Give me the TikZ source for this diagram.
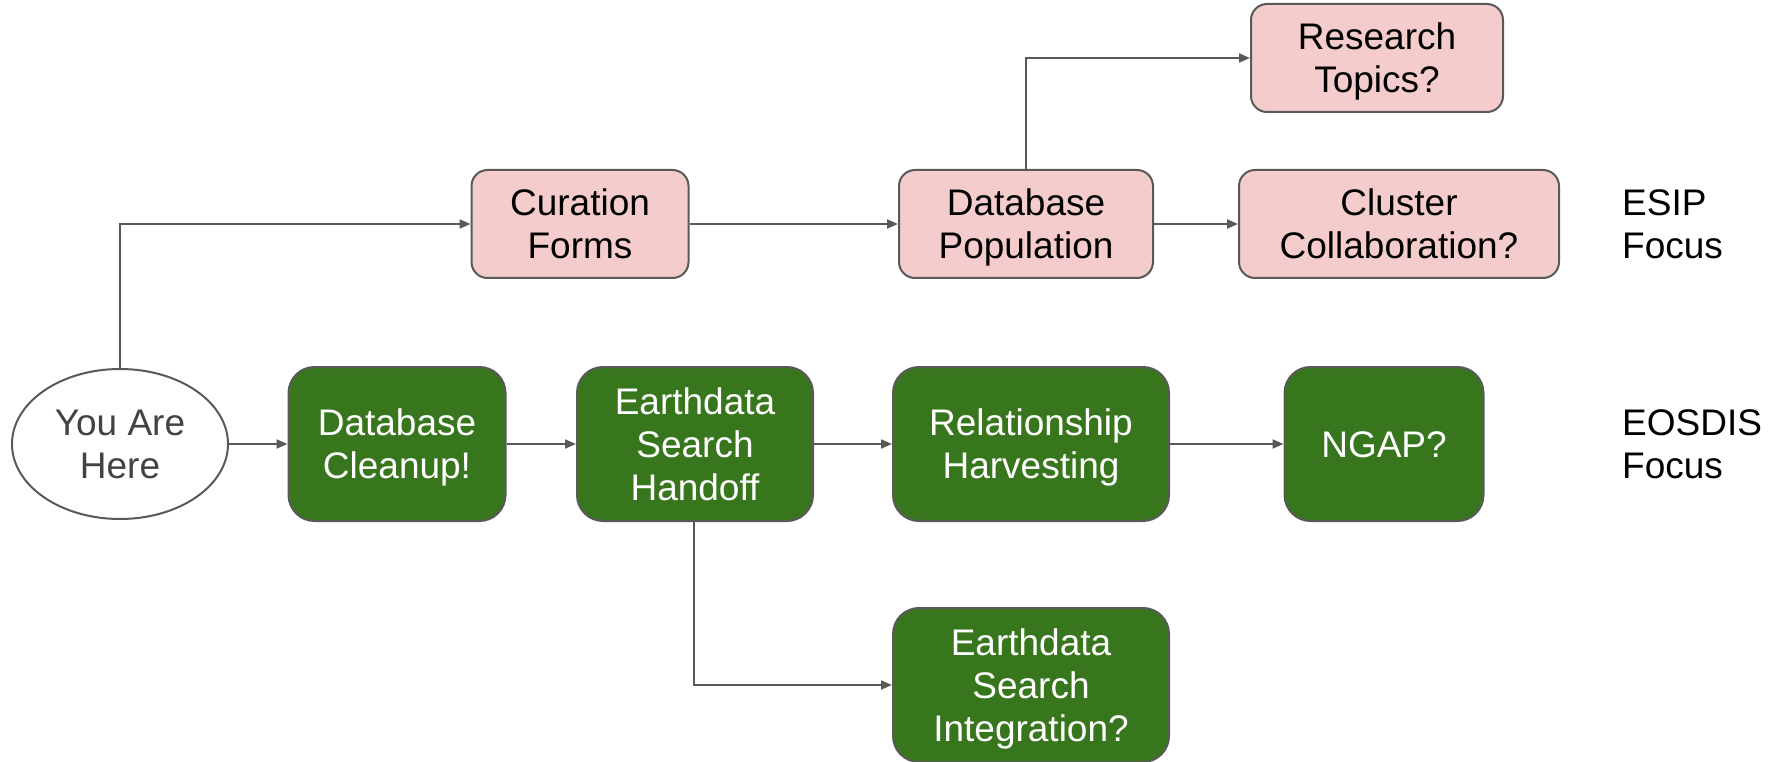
\documentclass[tikz,border=0pt]{standalone}
\usepackage{fontspec}
\setmainfont{Liberation Sans}
\usetikzlibrary{shapes.geometric,arrows.meta}
\definecolor{pinkfill}{HTML}{F4CCCC}
\definecolor{greenfill}{HTML}{38761D}
\definecolor{edgegray}{HTML}{595959}
\definecolor{textgray}{HTML}{434343}
\newcommand{\lnstrut}{\rule[-8.25pt]{0pt}{43pt}}
\tikzset{
  basebox/.style={draw=edgegray, line width=2pt, align=center, inner sep=0pt,
    font=\fontsize{37}{43}\selectfont},
  pinkbox/.style={basebox, fill=pinkfill, rounded corners=16pt, text=black, minimum height=108pt},
  greenbox/.style={basebox, fill=greenfill, rounded corners=26pt, text=white, minimum height=154pt},
  startnode/.style={basebox, ellipse, fill=white, text=textgray, minimum width=216pt, minimum height=150pt},
  focuslabel/.style={align=left, anchor=west, inner sep=0pt, font=\fontsize{37}{43}\selectfont},
  conn/.style={draw=edgegray, line width=2pt, -{Triangle[length=11pt,width=9pt]}}
}
\begin{document}
\begin{tikzpicture}[x=1pt,y=-1pt]
\useasboundingbox (0,0) rectangle (1781,762);
% nodes
\node[startnode] (here) at (120,444) {\lnstrut You Are\\\lnstrut Here};
\node[greenbox, minimum width=217pt] (cleanup) at (397,444) {\lnstrut Database\\\lnstrut Cleanup!};
\node[greenbox, minimum width=236pt] (handoff) at (695,444) {\lnstrut Earthdata\\\lnstrut Search\\\lnstrut Handoff};
\node[greenbox, minimum width=276pt] (harvest) at (1031,444) {\lnstrut Relationship\\\lnstrut Harvesting};
\node[greenbox, minimum width=199pt] (ngap) at (1384,444) {\lnstrut NGAP?};
\node[greenbox, minimum width=276pt] (integ) at (1031,685) {\lnstrut Earthdata\\\lnstrut Search\\\lnstrut Integration?};
\node[pinkbox, minimum width=217pt] (forms) at (580,224) {\lnstrut Curation\\\lnstrut Forms};
\node[pinkbox, minimum width=254pt] (popul) at (1026,224) {\lnstrut Database\\\lnstrut Population};
\node[pinkbox, minimum width=320pt] (cluster) at (1399,224) {\lnstrut Cluster\\\lnstrut Collaboration?};
\node[pinkbox, minimum width=252pt] (topics) at (1377,58) {\lnstrut Research\\\lnstrut Topics?};
\node[focuslabel] (esip) at (1622,224) {\lnstrut ESIP\\\lnstrut Focus};
\node[focuslabel] (eosdis) at (1622,444) {\lnstrut EOSDIS\\\lnstrut Focus};
% connectors
\draw[conn] (here.north) |- (forms.west);
\draw[conn] (forms.east) -- (popul.west);
\draw[conn] (popul.east) -- (cluster.west);
\draw[conn] (popul.north) |- (topics.west);
\draw[conn] (here.east) -- (cleanup.west);
\draw[conn] (cleanup.east) -- (handoff.west);
\draw[conn] (handoff.east) -- (harvest.west);
\draw[conn] (harvest.east) -- (ngap.west);
\draw[conn] ([xshift=-1pt]handoff.south) |- (integ.west);
\end{tikzpicture}
\end{document}
